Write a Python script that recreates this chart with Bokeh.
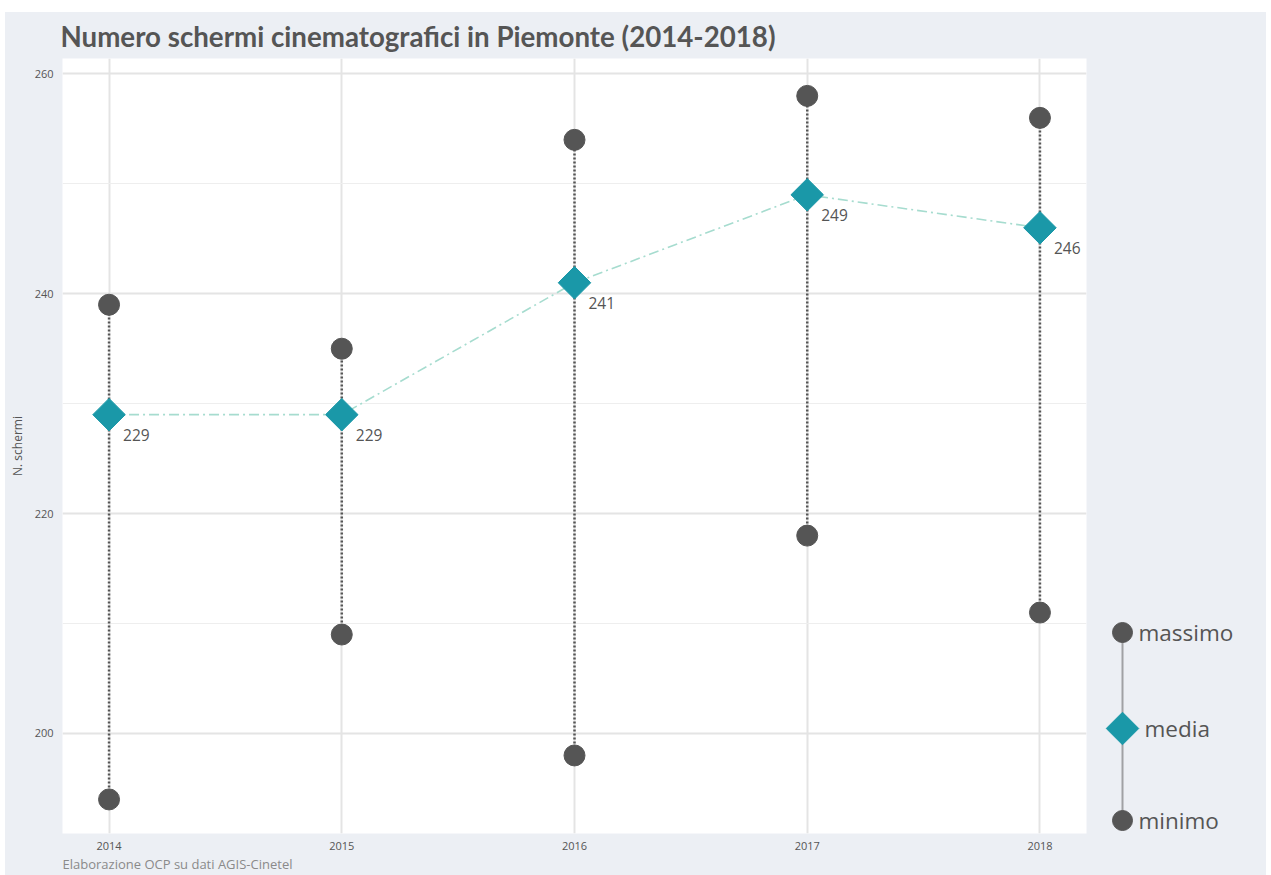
from bokeh.plotting import figure
from bokeh.models import FixedTicker, Range1d, Title
from bokeh.layouts import row
from bokeh.embed import file_html
from bokeh.resources import INLINE
from bokeh.core.properties import value

years = [2014, 2015, 2016, 2017, 2018]
massimo = [239, 235, 254, 258, 256]
media = [229, 229, 241, 249, 246]
minimo = [194, 209, 198, 218, 211]
y_ticks = [200, 220, 240, 260]
y_minor = [190, 210, 230, 250]

BG = "#ECEFF4"
DARK = "#555555"
TEAL = "#1a98a8"
LINE_TEAL = "#a6dccf"

p = figure(width=1090, height=863,
           x_range=Range1d(2013.8, 2018.2), y_range=Range1d(190.9, 261.4),
           output_backend="svg", toolbar_location=None,
           background_fill_color="white", border_fill_color=BG,
           min_border_left=57, min_border_right=9, min_border_top=46, min_border_bottom=42,
           outline_line_color=None)

p.title.text = "Numero schermi cinematografici in Piemonte (2014-2018)"
p.title.text_font = "Lato"
p.title.text_font_style = "bold"
p.title.text_font_size = "27.7px"
p.title.text_color = DARK
p.title.align = "left"
p.title.offset = -2
p.title.standoff = 11

cap = Title(text="Elaborazione OCP su dati AGIS-Cinetel", align="left",
            text_font_size="13px", text_color="#8a8a8a", text_font_style="normal",
            text_font="Open Sans", standoff=0, offset=0)
p.add_layout(cap, "below")

p.xaxis.ticker = FixedTicker(ticks=years)
p.yaxis.ticker = FixedTicker(ticks=y_ticks, minor_ticks=y_minor)
for ax in (p.xaxis[0], p.yaxis[0]):
    ax.axis_line_color = None
    ax.major_tick_line_color = None
    ax.minor_tick_line_color = None
    ax.major_tick_out = 0
    ax.major_tick_in = 0
    ax.minor_tick_out = 0
    ax.minor_tick_in = 0
    ax.major_label_text_font = "Open Sans"
    ax.major_label_text_font_size = "11px"
    ax.major_label_text_color = DARK
p.xaxis.major_label_standoff = 8
p.yaxis.major_label_standoff = 9
p.yaxis.axis_label = "N. schermi"
p.yaxis.axis_label_text_font = "Open Sans"
p.yaxis.axis_label_text_font_size = "12px"
p.yaxis.axis_label_text_font_style = "normal"
p.yaxis.axis_label_text_color = DARK
p.yaxis.axis_label_standoff = 6

p.xgrid.ticker = FixedTicker(ticks=years)
p.xgrid.grid_line_color = "#e4e4e4"
p.xgrid.grid_line_width = 2
p.ygrid.grid_line_color = "#e4e4e4"
p.ygrid.grid_line_width = 2
p.ygrid.minor_grid_line_color = "#eeeeee"
p.ygrid.minor_grid_line_width = 1

p.line(years, media, line_color=LINE_TEAL, line_width=1.6, line_dash="10 4 2 4")
p.segment(x0=years, y0=minimo, x1=years, y1=massimo, line_color=DARK,
          line_width=2.5, line_dash="2 2")
p.scatter(years, massimo, size=21, color=DARK)
p.scatter(years, minimo, size=21, color=DARK)
p.scatter(years, media, marker="square", angle=0.785398, size=23, color=TEAL)
p.text(years, media, text=[str(v) for v in media], x_offset=14, y_offset=20,
       text_baseline="middle", text_align="left", text_font=value("Open Sans"),
       text_font_size="15.5px", text_color=DARK)

# legend panel (its frame is aligned with the main frame by the row layout)
leg = figure(width=171, height=863, x_range=Range1d(0, 171), y_range=Range1d(0, 775),
             output_backend="svg", toolbar_location=None,
             background_fill_color=BG, border_fill_color=BG, outline_line_color=None,
             min_border=0, x_axis_type=None, y_axis_type=None)
leg.grid.visible = False
leg_labels = ["massimo", "media", "minimo"]
lx = [27, 27, 27]
ly = [201, 105, 13]
leg.segment(x0=[lx[0]], y0=[ly[0]], x1=[lx[2]], y1=[ly[2]], line_color=DARK,
            line_width=2, line_dash="1 1")
leg.scatter([lx[0], lx[2]], [ly[0], ly[2]], size=20, color=DARK)
leg.scatter([lx[1]], [ly[1]], marker="square", angle=0.785398, size=23, color=TEAL)
leg.text([43, 49, 43], ly, text=leg_labels, text_baseline="middle", text_align="left",
         text_font=value("Open Sans"), text_font_size="22.5px", text_color=DARK)

layout = row(p, leg, margin=(12, 5, 0, 5), spacing=0, styles={"background-color": BG})

open("out.html", "w").write(file_html(layout, INLINE))
